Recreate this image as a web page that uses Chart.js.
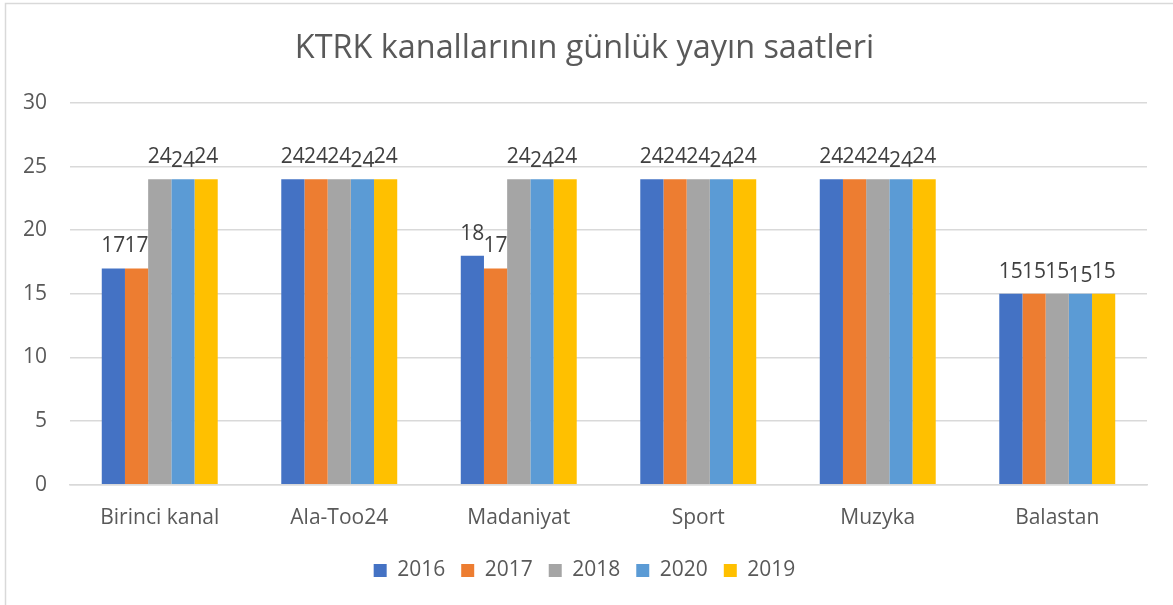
<!DOCTYPE html>
<html>
<head>
<meta charset="utf-8">
<script src="https://cdn.jsdelivr.net/npm/chart.js@4.4.1/dist/chart.umd.min.js"></script>
<style>
  html, body { margin: 0; padding: 0; background: #ffffff; }
  #wrap { width: 1173px; height: 605px; position: relative; }
  canvas { display: block; }
</style>
</head>
<body>
<div id="wrap"><canvas id="c" width="1173" height="605"></canvas></div>
<script>
const categories = ["Birinci kanal", "Ala-Too24", "Madaniyat", "Sport", "Muzyka", "Balastan"];
const seriesNames = ["2016", "2017", "2018", "2020", "2019"];
const values2016 = [17, 24, 18, 24, 24, 15];
const values2017 = [17, 24, 17, 24, 24, 15];
const values2018 = [24, 24, 24, 24, 24, 15];
const values2020 = [24, 24, 24, 24, 24, 15];
const values2019 = [24, 24, 24, 24, 24, 15];
const yTicks = [0, 5, 10, 15, 20, 25, 30];
const titleText = "KTRK kanallarının günlük yayın saatleri";

const colors = ["#4472C4", "#ED7D31", "#A5A5A5", "#5B9BD5", "#FFC000"];
const seriesValues = [values2016, values2017, values2018, values2020, values2019];
const labelDrop = [0, 0, 0, 4, 0];
const FONT = "'Open Sans', sans-serif";

const frame = {
  id: 'frame',
  beforeDraw(chart) {
    const ctx = chart.ctx;
    ctx.save();
    ctx.fillStyle = '#ffffff';
    ctx.fillRect(0, 0, chart.width, chart.height);
    ctx.strokeStyle = '#D9D9D9';
    ctx.lineWidth = 1.5;
    ctx.beginPath();
    ctx.moveTo(5.5, chart.height);
    ctx.lineTo(5.5, 3.5);
    ctx.lineTo(chart.width, 3.5);
    ctx.stroke();
    ctx.restore();
  }
};

const valueLabels = {
  id: 'valueLabels',
  afterDatasetsDraw(chart) {
    const ctx = chart.ctx;
    ctx.save();
    ctx.font = "21px " + FONT;
    ctx.fillStyle = '#404040';
    ctx.textAlign = 'center';
    ctx.textBaseline = 'alphabetic';
    chart.data.datasets.forEach((ds, i) => {
      const meta = chart.getDatasetMeta(i);
      meta.data.forEach((bar, j) => {
        ctx.fillText(String(ds.data[j]), bar.x, bar.y - 16 + labelDrop[i]);
      });
    });
    ctx.restore();
  }
};

new Chart(document.getElementById('c'), {
  type: 'bar',
  data: {
    labels: categories,
    datasets: seriesNames.map((name, i) => ({
      label: name,
      data: seriesValues[i],
      backgroundColor: colors[i],
      borderWidth: 0,
      categoryPercentage: 0.646,
      barPercentage: 1.0
    }))
  },
  options: {
    responsive: false,
    animation: false,
    devicePixelRatio: 1,
    layout: { padding: { left: 22, right: 26, top: 6, bottom: 14 } },
    plugins: {
      title: {
        display: true,
        text: titleText,
        color: '#595959',
        font: { family: FONT, size: 32.4, weight: 'normal' },
        padding: { top: 23, bottom: 35 }
      },
      legend: {
        position: 'bottom',
        labels: {
          color: '#595959',
          font: { family: FONT, size: 21 },
          boxWidth: 13,
          boxHeight: 13,
          padding: 16
        }
      },
      tooltip: { enabled: false }
    },
    scales: {
      x: {
        grid: { display: false },
        border: { color: '#D9D9D9', width: 1.5 },
        ticks: { color: '#595959', font: { family: FONT, size: 21 }, padding: 13 }
      },
      y: {
        min: 0,
        max: 30,
        afterBuildTicks(axis) { axis.ticks = yTicks.map(v => ({ value: v })); },
        grid: { color: '#D9D9D9', lineWidth: 1.5, drawTicks: false },
        border: { display: false },
        ticks: { color: '#595959', font: { family: FONT, size: 21 }, padding: 23 },
        afterFit(axis) { axis.width = 48; }
      }
    }
  },
  plugins: [frame, valueLabels]
});
</script>
</body>
</html>
